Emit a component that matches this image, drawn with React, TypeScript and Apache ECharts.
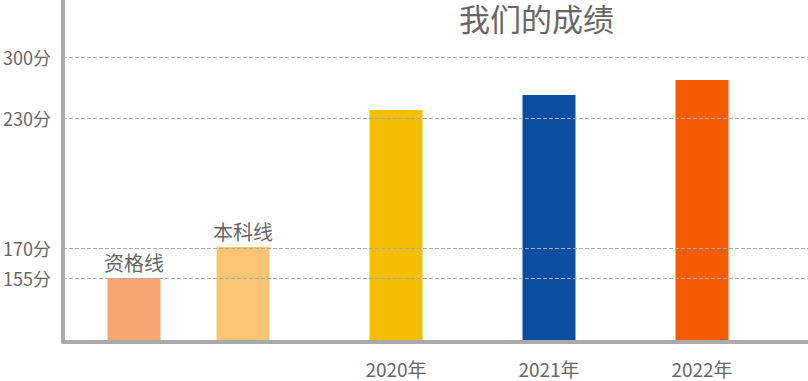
import React, { useEffect, useRef } from "react";
import * as echarts from "echarts";

// y axis is drawn in plain height units (not to scale with the score labels)
const tickValues = [64, 94, 224, 285];
const tickLabels = ["155分", "170分", "230分", "300分"];

const lineCategories = ["资格线", "本科线"];
const lineValues = [64, 95];
const lineColors = ["#F9A672", "#F9C574"];

const yearCategories = ["2020年", "2021年", "2022年"];
const yearValues = [232, 247, 262];
const yearColors = ["#F4BF00", "#0B4EA0", "#F55B00"];

const AXIS_MAX = 342;
const FONT = '"Noto Sans CJK SC", "Noto Sans", sans-serif';

export default function App() {
  const ref = useRef<HTMLDivElement>(null);
  useEffect(() => {
    if (!ref.current) return;
    const chart = echarts.init(ref.current, undefined, { renderer: "svg" });
    const labelFor = (v: number) => {
      const i = tickValues.indexOf(v);
      return i >= 0 ? tickLabels[i] : "";
    };
    chart.setOption({
      animation: false,
      textStyle: { fontFamily: FONT },
      title: {
        text: "我们的成绩",
        left: 459,
        top: 2,
        padding: 0,
        textStyle: { color: "#666", fontSize: 31, fontWeight: "normal", fontFamily: FONT },
      },
      grid: [
        { left: 60, right: 0, top: 0, bottom: 39 },
        { left: 79.5, width: 218, top: 0, bottom: 39 },
        { left: 319.5, width: 459, top: 0, bottom: 39 },
      ],
      xAxis: [
        {
          gridIndex: 0,
          type: "category",
          data: [""],
          z: 5,
          axisLine: { show: true, lineStyle: { color: "#aaa", width: 4 } },
          axisTick: { show: false },
          axisLabel: { show: false },
        },
        {
          gridIndex: 1,
          type: "category",
          data: lineCategories,
          axisLine: { show: false },
          axisTick: { show: false },
          axisLabel: { show: false },
        },
        {
          gridIndex: 2,
          type: "category",
          data: yearCategories,
          axisLine: { show: false },
          axisTick: { show: false },
          axisLabel: { color: "#666", fontSize: 19, margin: 17, fontFamily: FONT },
        },
      ],
      yAxis: [
        {
          gridIndex: 0,
          type: "value",
          min: 0,
          max: AXIS_MAX,
          z: 5,
          axisLine: { show: true, lineStyle: { color: "#aaa", width: 4 } },
          axisTick: { show: false, customValues: tickValues },
          axisLabel: {
            customValues: tickValues,
            formatter: (v: number) => labelFor(v),
            color: "#666",
            fontSize: 18,
            margin: 12,
            fontFamily: FONT,
          },
          splitLine: { show: true, lineStyle: { type: "dashed", color: "#aaa", width: 1 } },
        },
        { gridIndex: 1, type: "value", min: 0, max: AXIS_MAX, show: false, splitLine: { show: false } },
        { gridIndex: 2, type: "value", min: 0, max: AXIS_MAX, show: false, splitLine: { show: false } },
      ],
      series: [
        {
          type: "bar",
          xAxisIndex: 1,
          yAxisIndex: 1,
          barWidth: 53,
          data: lineValues.map((v, i) => ({ value: v, itemStyle: { color: lineColors[i] } })),
          label: {
            show: true,
            position: "top",
            distance: 6,
            formatter: "{b}",
            color: "#666",
            fontSize: 20,
            fontFamily: FONT,
          },
        },
        {
          type: "bar",
          xAxisIndex: 2,
          yAxisIndex: 2,
          barWidth: 53,
          data: yearValues.map((v, i) => ({ value: v, itemStyle: { color: yearColors[i] } })),
        },
      ],
    });
    return () => chart.dispose();
  }, []);
  return (
    <div
      ref={ref}
      style={{ position: "absolute", left: 0, top: 0, width: 808, height: 381 }}
    />
  );
}
